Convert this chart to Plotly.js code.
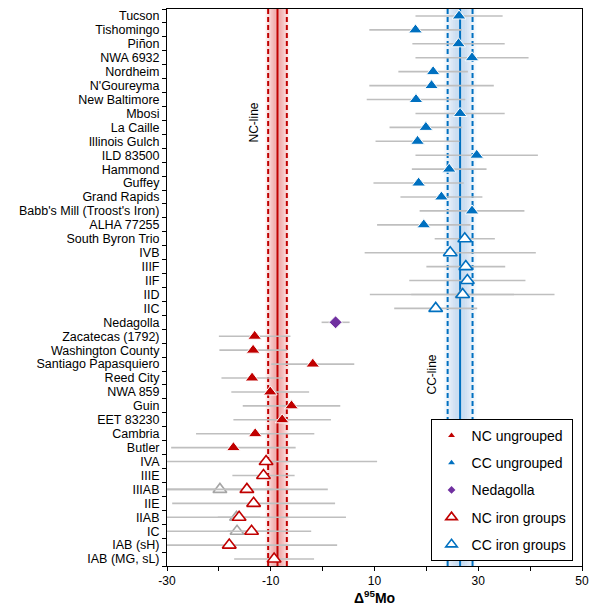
<!DOCTYPE html>
<html>
<head>
<meta charset="utf-8">
<script src="https://cdn.plot.ly/plotly-3.0.1.min.js"></script>
<style>html,body{margin:0;padding:0;background:#fff;}#chart{width:592px;height:606px;}</style>
</head>
<body>
<div id="chart"></div>
<script>
// ---- categories (top to bottom) ----
const categories = ["Tucson","Tishomingo","Piñon","NWA 6932","Nordheim","N'Goureyma","New Baltimore","Mbosi","La Caille","Illinois Gulch","ILD 83500","Hammond","Guffey","Grand Rapids","Babb's Mill (Troost's Iron)","ALHA 77255","South Byron Trio","IVB","IIIF","IIF","IID","IIC","Nedagolla","Zacatecas (1792)","Washington County","Santiago Papasquiero","Reed City","NWA 859","Guin","EET 83230","Cambria","Butler","IVA","IIIE","IIIAB","IIE","IIAB","IC","IAB (sH)","IAB (MG, sL)"];

// ---- x tick labels ----
const xTickVals = [-30, -10, 10, 30, 50];
const xTickText = ["-30", "-10", "10", "30", "50"];

// ---- CC ungrouped ----
const ccUngNames = ["Tucson","Tishomingo","Piñon","NWA 6932","Nordheim","N'Goureyma","New Baltimore","Mbosi","La Caille","Illinois Gulch","ILD 83500","Hammond","Guffey","Grand Rapids","Babb's Mill (Troost's Iron)","ALHA 77255"];
const ccUngValues = [26.3,17.9,26.2,28.8,21.3,21.0,18.0,26.5,19.9,18.3,29.7,24.4,18.5,22.9,28.8,19.5];
const ccUngErrors = [8.4,8.9,8.9,10.9,6.7,12.0,9.5,8.6,7.0,8.1,11.8,7.2,8.7,7.9,10.1,9.0];

// ---- CC iron groups ----
const ccGrpNames = ["South Byron Trio","IVB","IIIF","IIF","IID","IIC"];
const ccGrpValues = [27.4,24.6,27.6,27.9,27.0,21.8];
const ccGrpErrors = [5.8,16.5,7.6,11.2,9.9,8.0];

// ---- Nedagolla ----
const nedNames = ["Nedagolla"];
const nedValues = [2.5];
const nedErrors = [2.7];

// ---- NC ungrouped ----
const ncUngNames = ["Zacatecas (1792)","Washington County","Santiago Papasquiero","Reed City","NWA 859","Guin","EET 83230","Cambria","Butler"];
const ncUngValues = [-13.1,-13.4,-1.9,-13.6,-10.1,-6.0,-7.8,-13.0,-17.2];
const ncUngErrors = [6.9,6.5,8.0,5.9,7.5,9.4,9.4,11.4,12.0];

// ---- NC iron groups ----
const ncGrpNames = ["IVA","IIIE","IIIAB","IIE","IIAB","IC","IAB (sH)","IAB (MG, sL)"];
const ncGrpValues = [-10.9,-11.4,-14.6,-13.3,-16.1,-13.7,-18.0,-9.35];
const ncGrpErrors = [21.4,6.0,15.6,15.7,4.1,4.6,20.8,7.7];

// ---- other (grey) iron group data ----
const greyNames = ["IID","IIIAB","IIAB","IC"];
const greyValues = [26.9,-19.8,-16.6,-16.5];
const greyErrors = [17.8,10.2,21.1,14.3];

// ---- reference lines ----
const ncLine = {mean: -8.7, err: 1.8};
const ccLine = {mean: 26.5, err: 2.4};

const RED = '#C00000', BLUE = '#0070C0', PURPLE = '#7030A0', GREY = '#A6A6A6', BAR = '#BFBFBF';

function errX(arr){ return {type:'data', array:arr, visible:true, color:BAR, thickness:1.6, width:0}; }

const traces = [
  {type:'scatter', mode:'markers', x:greyValues, y:greyNames, error_x:errX(greyErrors),
   marker:{symbol:'triangle-up', size:12, color:'white', line:{color:GREY, width:1.6}}, showlegend:false},
  {type:'scatter', mode:'markers', x:ccUngValues, y:ccUngNames, error_x:errX(ccUngErrors),
   marker:{symbol:'triangle-up', size:12, color:BLUE, line:{color:'white', width:1}}, showlegend:false},
  {type:'scatter', mode:'markers', x:ccGrpValues, y:ccGrpNames, error_x:errX(ccGrpErrors),
   marker:{symbol:'triangle-up', size:12, color:'white', line:{color:BLUE, width:1.6}}, showlegend:false},
  {type:'scatter', mode:'markers', x:nedValues, y:nedNames, error_x:errX(nedErrors),
   marker:{symbol:'diamond', size:10, color:PURPLE, line:{color:'white', width:1}}, showlegend:false},
  {type:'scatter', mode:'markers', x:ncUngValues, y:ncUngNames, error_x:errX(ncUngErrors),
   marker:{symbol:'triangle-up', size:12, color:RED, line:{color:'white', width:1}}, showlegend:false},
  {type:'scatter', mode:'markers', x:ncGrpValues, y:ncGrpNames, error_x:errX(ncGrpErrors),
   marker:{symbol:'triangle-up', size:12, color:'white', line:{color:RED, width:1.6}}, showlegend:false},
  // legend entries
  {type:'scatter', mode:'markers', x:[null], y:[null], name:'NC ungrouped', legendgroup:'a', marker:{symbol:'triangle-up', size:6, color:RED}},
  {type:'scatter', mode:'markers', x:[null], y:[null], name:'CC ungrouped', legendgroup:'b', marker:{symbol:'triangle-up', size:6, color:BLUE}},
  {type:'scatter', mode:'markers', x:[null], y:[null], name:'Nedagolla', legendgroup:'c', marker:{symbol:'diamond', size:6, color:PURPLE}},
  {type:'scatter', mode:'markers', x:[null], y:[null], name:'NC iron groups', legendgroup:'d', marker:{symbol:'triangle-up-open', size:10, color:RED, line:{width:1.6}}},
  {type:'scatter', mode:'markers', x:[null], y:[null], name:'CC iron groups', legendgroup:'e', marker:{symbol:'triangle-up-open', size:10, color:BLUE, line:{width:1.6}}}
];

// shaded gradient bands from nested translucent rectangles
function band(line, rgb, alpha){
  const out = [];
  const factors = [1.3, 1.15, 1.0, 0.85, 0.7, 0.55, 0.4];
  factors.forEach(f => out.push({type:'rect', xref:'x', yref:'paper', layer:'below',
    x0: line.mean - f*line.err, x1: line.mean + f*line.err, y0:0, y1:1,
    fillcolor:'rgba(' + rgb + ',' + alpha + ')', line:{width:0}}));
  return out;
}
function lines(line, color){
  return [
    {type:'line', xref:'x', yref:'paper', layer:'below', x0:line.mean, x1:line.mean, y0:0, y1:1, line:{color:color, width:2}},
    {type:'line', xref:'x', yref:'paper', layer:'below', x0:line.mean-line.err, x1:line.mean-line.err, y0:0, y1:1, line:{color:color, width:2, dash:'5px,3px'}},
    {type:'line', xref:'x', yref:'paper', layer:'below', x0:line.mean+line.err, x1:line.mean+line.err, y0:0, y1:1, line:{color:color, width:2, dash:'5px,3px'}}
  ];
}
const shapes = [].concat(band(ncLine, '220,60,60', 0.065), band(ccLine, '60,140,210', 0.045), lines(ncLine, RED), lines(ccLine, BLUE));

const FONT = 'Liberation Sans, Arial, sans-serif';
const layout = {
  width:592, height:606,
  margin:{l:167, r:10, t:9, b:40},
  paper_bgcolor:'white', plot_bgcolor:'white',
  font:{family:FONT, size:12, color:'black'},
  showlegend:true,
  xaxis:{range:[-30,50], tickmode:'array', tickvals:xTickVals, ticktext:xTickText,
    ticks:'outside', ticklen:4, tickcolor:'black', tickwidth:1,
    minor:{tick0:-30, dtick:10, ticks:'outside', ticklen:4, tickcolor:'black'},
    showline:true, linecolor:'black', linewidth:1, mirror:true, showgrid:false, zeroline:false,
    tickfont:{size:12, family:FONT},
    title:{text:'<b>Δ<sup>95</sup>Mo</b>', font:{size:14, family:FONT}, standoff:5}},
  yaxis:{type:'category', categoryorder:'array', categoryarray:categories, range:[categories.length-0.5, -0.5],
    tickmode:'array', tickvals:categories, ticktext:categories,
    tickson:'boundaries', ticks:'outside', ticklen:4, tickcolor:'black', ticklabelstandoff:4,
    showline:true, linecolor:'black', linewidth:1, mirror:true, showgrid:false, zeroline:false,
    tickfont:{size:12.5, family:FONT}},
  legend:{x:0.635, xanchor:'left', y:0.264, yanchor:'top', bgcolor:'white', bordercolor:'black', borderwidth:1,
    font:{size:14, family:FONT}, tracegroupgap:6, itemwidth:30},
  shapes:shapes,
  annotations:[
    {text:'NC-line', x:-13.2, xref:'x', y:0.836, yref:'paper', showarrow:false, textangle:-90, font:{size:12, family:FONT}},
    {text:'CC-line', x:21.0, xref:'x', y:0.343, yref:'paper', showarrow:false, textangle:-90, font:{size:12, family:FONT}}
  ]
};

Plotly.newPlot('chart', traces, layout, {displayModeBar:false, staticPlot:true});
</script>
</body>
</html>
